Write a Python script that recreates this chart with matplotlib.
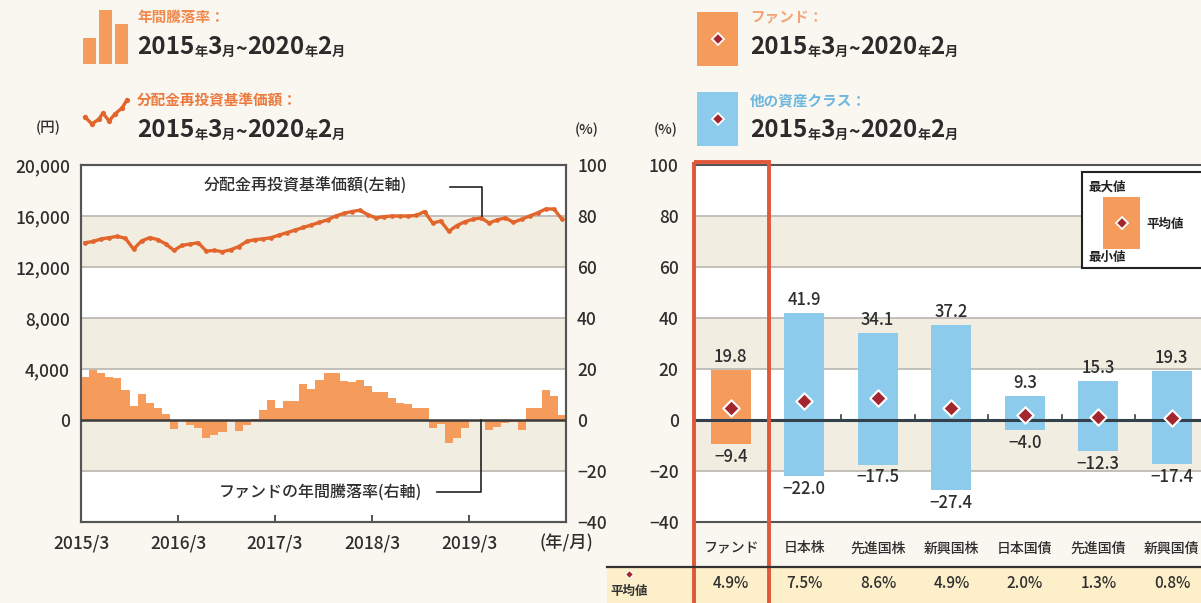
import matplotlib
matplotlib.use('Agg')
from matplotlib import pyplot as plt
from matplotlib.patches import Rectangle
import numpy as np

plt.rcParams['font.family'] = ['Noto Sans CJK JP', 'DejaVu Sans']
plt.rcParams['font.weight'] = 'medium'

# --- data -------------------------------------------------------------
# monthly, 2015/3 .. 2020/2
nav = [13900, 14000, 14200, 14300, 14400, 14250, 13400, 14050, 14300, 14150,
       13800, 13300, 13700, 13800, 13900, 13250, 13300, 13200, 13350, 13600,
       14000, 14150, 14200, 14300, 14500, 14700, 14900, 15100, 15300, 15500,
       15700, 16000, 16200, 16350, 16450, 16100, 15850, 15950, 16000, 16000,
       16000, 16050, 16350, 15450, 15600, 14800, 15250, 15550, 15750, 15850,
       15450, 15700, 15850, 15500, 15750, 16000, 16250, 16550, 16550, 15750]
annual_ret = [16.7, 19.6, 18.5, 16.7, 16.5, 11.9, 5.5, 10.3, 6.8, 4.9,
              2.3, -3.5, -0.3, -1.8, -3.1, -6.9, -6.0, -4.7, -0.3, -4.4,
              -1.8, 0.5, 3.8, 7.7, 4.6, 7.4, 7.4, 14.0, 12.0, 15.8,
              18.3, 18.3, 15.4, 14.9, 15.8, 13.2, 11.0, 11.0, 8.7, 6.8,
              6.4, 4.6, 4.6, -3.1, -1.5, -9.0, -6.9, -3.1, -0.3, -0.5,
              -4.1, -2.6, -1.3, -0.9, -4.1, 4.6, 4.6, 11.9, 9.4, 2.1]
year_ticks = ['2015/3', '2016/3', '2017/3', '2018/3', '2019/3', '(年/月)']

asset_names = ['ファンド', '日本株', '先進国株', '新興国株', '日本国債', '先進国債', '新興国債']
asset_max = [19.8, 41.9, 34.1, 37.2, 9.3, 15.3, 19.3]
asset_min = [-9.4, -22.0, -17.5, -27.4, -4.0, -12.3, -17.4]
asset_avg = [4.9, 7.5, 8.6, 4.9, 2.0, 1.3, 0.8]

# --- colours ------------------------------------------------------------
BG = '#f9f7f0'
BAND = '#f1ede1'
GRID = '#bdbbb4'
ORANGE = '#f59c5c'
LINE = '#e2652c'
BLUE = '#8ccbec'
DIAMOND = '#a3262e'
RED = '#e0583a'
TXT = '#2e2e2e'

W, H = 1201, 603
fig = plt.figure(figsize=(W / 100, H / 100), dpi=100, facecolor=BG)


def fx(px):
    return px / W


def fy(py):
    return 1 - py / H


def fmt(v):
    s = f'{abs(v):.1f}'
    return ('−' + s) if v < 0 else s


# --- left chart -----------------------------------------------------------
axl = fig.add_axes([fx(81), fy(522), (566 - 81) / W, (522 - 165) / H])
axl.set_facecolor('white')
axl.set_xlim(0, 60)
axl.set_ylim(-8000, 20000)
for lo, hi in [(12000, 16000), (4000, 8000), (-4000, 0)]:
    axl.axhspan(lo, hi, color=BAND, lw=0, zorder=0)
for g in [16000, 12000, 8000, 4000, -4000]:
    axl.axhline(g, color=GRID, lw=1.3, zorder=1)

x = np.arange(len(nav)) + 0.5
axl.plot(x, nav, color=LINE, lw=2.4, marker='o', ms=3.4, mew=0, zorder=3)

axl.set_yticks([0, 4000, 8000, 12000, 16000, 20000])
axl.set_yticklabels(['0', '4,000', '8,000', '12,000', '16,000', '20,000'])
axl.tick_params(axis='y', length=0, pad=8, labelsize=12.5, labelcolor=TXT)
axl.set_xticks([0, 12, 24, 36, 48, 60])
axl.set_xticklabels(year_ticks)
axl.tick_params(axis='x', direction='in', length=5, width=1.3, color='#444444',
                pad=9, labelsize=12.5, labelcolor=TXT)

ax2 = axl.twinx()
ax2.set_ylim(-40, 100)
ax2.bar(x, annual_ret, width=1.0, color=ORANGE, lw=0, zorder=2)
ax2.axhline(0, color='#3a3a3a', lw=1.8, zorder=4)
ax2.set_yticks([-40, -20, 0, 20, 40, 60, 80, 100])
ax2.set_yticklabels(['−40', '−20', '0', '20', '40', '60', '80', '100'])
ax2.tick_params(axis='y', length=0, pad=8, labelsize=12.5, labelcolor=TXT)
for a in (axl, ax2):
    for sp in a.spines.values():
        sp.set_color('#555555')
        sp.set_linewidth(1.5)

# callouts
axl.text(27.7, 18300, '分配金再投資基準価額(左軸)', ha='center', va='center',
         fontsize=11.5, color=TXT)
axl.plot([45.6, 49.6, 49.6], [18300, 18300, 16000], color='#222222', lw=1.2, zorder=5)
ax2.text(29.6, -28.2, 'ファンドの年間騰落率(右軸)', ha='center', va='center',
         fontsize=11.5, color=TXT)
ax2.plot([44.0, 49.5, 49.5], [-28.2, -28.2, 0], color='#222222', lw=1.2, zorder=5)

# --- right chart ----------------------------------------------------------
step = 73.5
axr = fig.add_axes([fx(694), fy(522), (1230 - 694) / W, (522 - 165) / H])
axr.set_facecolor('white')
axr.set_xlim(-0.5, -0.5 + 536 / step)
axr.set_ylim(-40, 100)
for lo, hi in [(60, 80), (20, 40), (-20, 0)]:
    axr.axhspan(lo, hi, color=BAND, lw=0, zorder=0)
for g in [80, 60, 40, 20, -20]:
    axr.axhline(g, color=GRID, lw=1.3, zorder=1)

pos = np.arange(len(asset_names))
heights = np.array(asset_max) - np.array(asset_min)
colors = [ORANGE] + [BLUE] * (len(asset_names) - 1)
axr.bar(pos, heights, bottom=asset_min, width=0.54, color=colors, lw=0, zorder=2)
axr.axhline(0, color='#34404c', lw=2.2, zorder=3)
for b in pos[1:]:
    axr.plot([b - 0.5, b - 0.5], [0, 2], color='#34404c', lw=1.2, zorder=3)
axr.scatter(pos, asset_avg, marker='D', s=70, color=DIAMOND, edgecolor='white',
            linewidth=1.5, zorder=4)
for p, hi, lo in zip(pos, asset_max, asset_min):
    axr.text(p, hi + 1.5, fmt(hi), ha='center', va='bottom', fontsize=12, color=TXT)
    axr.text(p, lo - 1.5, fmt(lo), ha='center', va='top', fontsize=12, color=TXT)

axr.set_yticks([-40, -20, 0, 20, 40, 60, 80, 100])
axr.set_yticklabels(['−40', '−20', '0', '20', '40', '60', '80', '100'])
axr.tick_params(axis='y', length=0, pad=11, labelsize=12.5, labelcolor=TXT)
axr.set_xticks(pos)
axr.set_xticklabels(asset_names)
axr.tick_params(axis='x', length=0, pad=14, labelsize=10, labelcolor=TXT)
axr.spines['right'].set_visible(False)
for s in ['top', 'bottom', 'left']:
    axr.spines[s].set_color('#555555')
    axr.spines[s].set_linewidth(1.5)

# --- overlay in pixel coordinates: headers, icons, table ------------------
ov = fig.add_axes([0, 0, 1, 1], zorder=10)
ov.set_xlim(0, W)
ov.set_ylim(H, 0)
ov.axis('off')


def date_run(x0, yc):
    pieces = [('2015', 17.5), ('年', 9.5), ('3', 17.5), ('月', 9.5), ('~', 14),
              ('2020', 17.5), ('年', 9.5), ('2', 17.5), ('月', 9.5)]
    t = ov.text(x0, yc, pieces[0][0], fontsize=pieces[0][1], fontweight='bold',
                color='#2b2b2b', va='center')
    for s, size in pieces[1:]:
        t = ov.annotate(s, xy=(1, 0), xycoords=t, va='bottom', ha='left',
                        fontsize=size, fontweight='bold', color='#2b2b2b')


ov.text(137, 17, '年間騰落率：', fontsize=10.5, fontweight='bold', color='#f08a4e', va='center')
date_run(137, 47)
ov.text(137, 100, '分配金再投資基準価額：', fontsize=10.5, fontweight='bold', color='#ec7a3e', va='center')
date_run(137, 130)
ov.text(750, 17, 'ファンド：', fontsize=10.5, fontweight='bold', color='#f4a47a', va='center')
date_run(750, 47)
ov.text(750, 100, '他の資産クラス：', fontsize=10.5, fontweight='bold', color='#6db6df', va='center')
date_run(750, 130)

# icons
for (x0, y0) in [(83, 38), (99, 10), (115, 24)]:
    ov.add_patch(Rectangle((x0, y0), 13, 64 - y0, color=ORANGE, lw=0))
ov.plot([85, 92, 99, 103, 109, 115, 122, 127], [117, 124, 119, 113, 121, 114, 108, 100],
        color=LINE, lw=2.4, marker='o', ms=3.8, mew=0)
ov.add_patch(Rectangle((697, 12), 41, 54, color=ORANGE, lw=0))
ov.add_patch(Rectangle((697, 92), 41, 54, color=BLUE, lw=0))
for yc in (39, 119):
    ov.plot(717.5, yc, marker='D', ms=6, mfc=DIAMOND, mec='white', mew=1.3)

ov.text(48, 128, '(円)', fontsize=10.5, color=TXT, ha='center', va='center')
ov.text(587, 130, '(%)', fontsize=10.5, color=TXT, ha='center', va='center')
ov.text(666, 130, '(%)', fontsize=10.5, color=TXT, ha='center', va='center')

# legend box inside right chart
ov.add_patch(Rectangle((1082, 172), 140, 96, fc='white', ec='#222222', lw=1.5))
ov.add_patch(Rectangle((1103, 197), 37, 52, color=ORANGE, lw=0))
ov.plot(1121.5, 223, marker='D', ms=6, mfc=DIAMOND, mec='white', mew=1.3)
ov.text(1088, 187, '最大値', fontsize=9, fontweight='bold', color='#222222', va='center')
ov.text(1088, 257, '最小値', fontsize=9, fontweight='bold', color='#222222', va='center')
ov.text(1146, 224, '平均値', fontsize=9, fontweight='bold', color='#222222', va='center')

# average table
ov.add_patch(Rectangle((607, 568), 600, 40, color='#fcefc9', lw=0))
ov.plot([607, 1201], [567, 567], color='#333333', lw=1.6)
ov.plot(629, 574, marker='D', ms=4.5, mfc=DIAMOND, mec='white', mew=0.8)
ov.text(629, 591, '平均値', fontsize=9, fontweight='bold', color='#333333', ha='center', va='center')
for i, v in enumerate(asset_avg):
    ov.text(731 + step * i, 584, f'{v:.1f}%', fontsize=11, color=TXT, ha='center', va='center')

# red frame around the fund column
ov.add_patch(Rectangle((694, 162), 75, 460, fill=False, ec=RED, lw=2.8))

fig.savefig('out.png', dpi=100, facecolor=BG)
